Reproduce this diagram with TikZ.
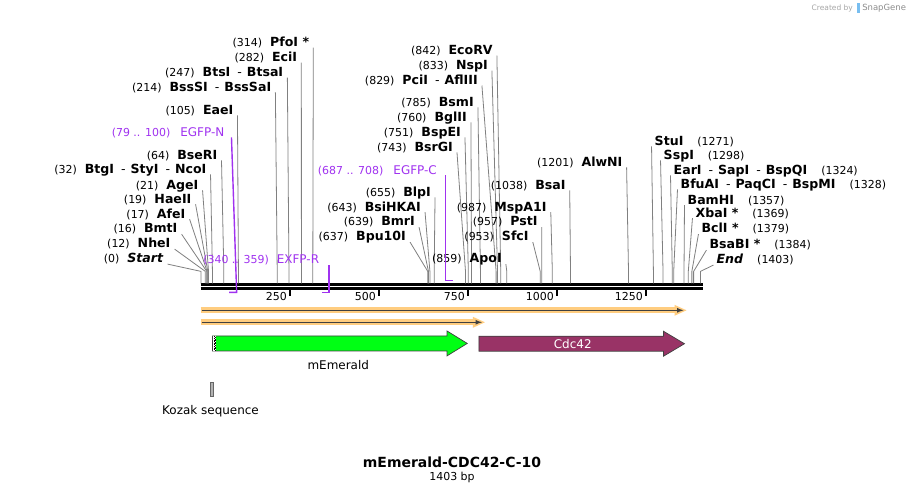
\documentclass[tikz,border=0pt]{standalone}
\usepackage{fontspec}
\setmainfont{DejaVu Sans}
\usetikzlibrary{arrows,shapes}

\definecolor{primer}{RGB}{160,50,240}
\definecolor{halo}{RGB}{255,205,128}
\definecolor{emerald}{RGB}{0,255,20}
\definecolor{cdcred}{RGB}{153,51,102}
\definecolor{logoblue}{RGB}{120,190,240}

% site number in front of / behind an enzyme name
\newcommand{\sitenum}[1]{{\fontsize{11}{13}\selectfont\mdseries (#1)}}
\newcommand{\esep}{\hspace{7pt}\textmd{-}\hspace{5pt}}

\begin{document}
\begin{tikzpicture}[x=1pt,y=-1pt,
  enz/.style={font=\fontsize{12.6}{14}\selectfont\bfseries, inner sep=1pt, text height=9pt, text depth=0pt},
  prim/.style={font=\fontsize{12}{14}\selectfont, text=primer, inner sep=1pt, text height=9pt, text depth=0pt},
  cut/.style={draw=black!50, line width=0.8pt},
  primline/.style={draw=primer, line width=1.4pt},
  seqline/.style={line width=2.6pt},
  tickmark/.style={line width=1.8pt},
  rul/.style={font=\fontsize{11}{13}\selectfont, inner sep=1pt},
  feat/.style={draw=black!75, line width=0.7pt},
  orfhalo/.style={draw=halo, line width=6pt},
  orfline/.style={draw=black!75, line width=1.2pt, -latex}]
\fill[white] (0,0) rectangle (906,494);

% logo
\node[font=\fontsize{7.5}{9}\selectfont, text=black!35, anchor=east, inner sep=0pt] (created) at (855,8) {Created by};
\fill[logoblue] (859,3) rectangle (862,13);
\node[font=\fontsize{8.5}{10}\selectfont, text=black!45, anchor=west, inner sep=0pt] (snapgene) at (864,8) {SnapGene};

% sequence ruler
\draw[seqline] (201,285.3) -- (705,285.3);
\draw[seqline] (201,289.4) -- (705,289.4);
\foreach \t in {250,500,750,1000,1250}{
  \draw[tickmark] ({201.5+\t*0.3567},290) -- ++(0,7);
  \node[rul, anchor=east] (t\t) at ({201.5+\t*0.3567-2},297) {\t};
}

% enzymes, label left of the cut line
\foreach \xr/\yy/\site/\nm [count=\i] in {
  310/42/314/{PfoI *}, 298/57/282/EciI, 284/72/247/{BtsI\esep BtsaI},
  272/87/214/{BssSI\esep BssSaI}, 234/110/105/EaeI, 218/155/64/BseRI,
  207/169/32/{BtgI\esep StyI\esep NcoI}, 199/185/21/AgeI, 192/199/19/HaeII,
  186/214/17/AfeI, 178/229/16/BmtI, 171/244/12/NheI, 164/259/0/\textit{Start},
  494/50/842/EcoRV, 489/65/833/NspI, 479/80/829/{PciI\esep AflIII},
  475/102/785/BsmI, 468/117/760/BglII, 462/132/751/BspEI, 454/147/743/BsrGI,
  432/192/655/BlpI, 422/207/643/BsiHKAI, 416/222/639/BmrI, 407/237/637/Bpu10I,
  503/259/859/ApoI, 567/185/1038/BsaI, 548/207/987/MspA1I, 539/222/957/PstI,
  530/237/953/SfcI, 624/162/1201/AlwNI}{
  \node[enz, anchor=east] (L\i) at (\xr+1,\yy) {\sitenum{\site}\hspace{8pt}\nm};
  \draw[cut] ([xshift=3pt]L\i.south east) -- ({201.5+\site*0.3567},272) -- ({201.5+\site*0.3567},284);
}

% enzymes, label right of the cut line
\foreach \xl/\yy/\site/\nm [count=\i] in {
  656/141/1271/StuI, 665/155/1298/SspI, 675/170/1324/{EarI\esep SapI\esep BspQI},
  682/184/1328/{BfuAI\esep PaqCI\esep BspMI}, 689/200/1357/BamHI,
  697/213/1369/{XbaI *}, 703/229/1379/{BclI *}, 711/245/1384/{BsaBI *},
  718/260/1403/\textit{End}}{
  \node[enz, anchor=west] (R\i) at (\xl-1,\yy) {\nm\hspace{14pt}\sitenum{\site}};
  \draw[cut] ([xshift=-2pt]R\i.south west) -- ({201.5+\site*0.3567},272) -- ({201.5+\site*0.3567},284);
}

% primers
\coordinate (p79) at ({201.5+79*0.3567},293);
\coordinate (p100) at ({201.5+100*0.3567},293);
\coordinate (p340) at ({201.5+340*0.3567},293);
\coordinate (p359) at ({201.5+359*0.3567},293);
\coordinate (p687) at ({201.5+687*0.3567},281);
\coordinate (p708) at ({201.5+708*0.3567},281);
\node[prim, anchor=east] (egfpn) at (226,132) {\sitenum{79 .. 100}\hspace{10pt}EGFP-N};
\node[prim, anchor=east] (exfpr) at (321,260) {\sitenum{340 .. 359}\hspace{8pt}EXFP-R};
\node[prim, anchor=east] (egfpc) at (439,170) {\sitenum{687 .. 708}\hspace{10pt}EGFP-C};
\draw[primline] ([xshift=6pt]egfpn.south east) -- (p100) -- (p79);
\draw[primline] (p359 |- exfpr.south) -- (p359) -- (p340);
\draw[primline] (p687 |- egfpc.south) -- (p687) -- (p708);

% features
\draw[orfhalo] (201,311) -- (679,311);
\fill[halo] (676,305.5) -- (688,311) -- (676,316.5) -- cycle;
\draw[orfline] (202,311) -- (685,311);
\draw[orfhalo] (201,323) -- (477,323);
\fill[halo] (474,317.5) -- (486,323) -- (474,328.5) -- cycle;
\draw[orfline] (202,323) -- (483,323);

\draw[feat, fill=emerald] (213,336.7) -- (448,336.7) -- (448,331.7) -- (468.3,344.2)
  -- (448,356.7) -- (448,351.7) -- (213,351.7) -- cycle;
\fill[white] (213.4,337.1) rectangle (216.5,351.3);
\draw[black, densely dotted, line width=0.6pt] (214.3,337.1) -- (214.3,351.3);
\draw[black, densely dotted, line width=0.6pt, dash phase=1pt] (215.6,337.1) -- (215.6,351.3);
\node[font=\fontsize{12}{14}\selectfont, inner sep=0pt] (memerald) at (339,366) {mEmerald};

\draw[feat, fill=cdcred] (480,337) -- (665,337) -- (665,332) -- (686,344.5)
  -- (665,357) -- (665,352) -- (480,352) -- cycle;
\node[font=\fontsize{12}{14}\selectfont, text=white, inner sep=0pt] (cdc) at (574,344.5) {Cdc42};

\draw[fill=black!30, draw=black!60, line width=0.6pt] (211,383) rectangle (214,397);
\node[font=\fontsize{12}{14}\selectfont, inner sep=0pt] (kozak) at (211,412) {Kozak sequence};

% title
\node[font=\fontsize{14}{16}\selectfont\bfseries, inner sep=0pt] (title) at (453,463) {mEmerald-CDC42-C-10};
\node[font=\fontsize{11}{13}\selectfont, inner sep=0pt] (bp) at (453,479) {1403 bp};
\end{tikzpicture}
\end{document}
